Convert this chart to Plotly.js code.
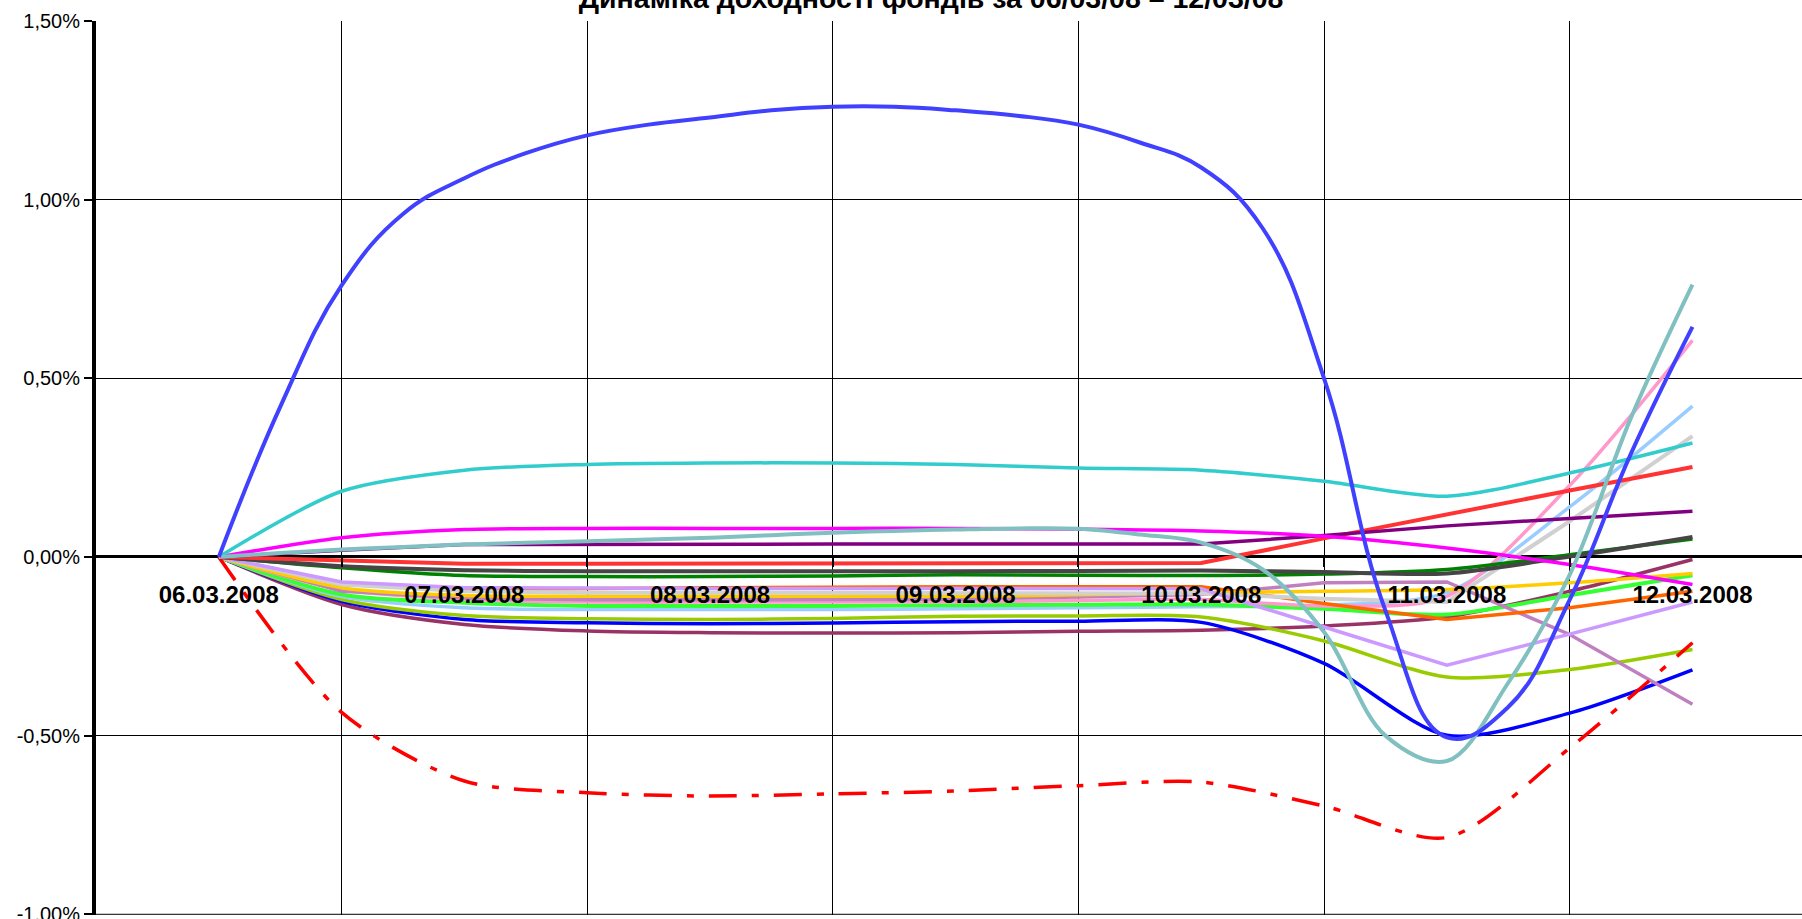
<!DOCTYPE html>
<html>
<head>
<meta charset="utf-8">
<script src="https://cdn.plot.ly/plotly-3.0.1.min.js"></script>
<style>
html,body{margin:0;padding:0;background:#fff;overflow:hidden}
#chart{width:1802px;height:919px}
</style>
</head>
<body>
<div id="chart"></div>
<script>
// Category labels (one per day)
const days = ['06.03.2008','07.03.2008','08.03.2008','09.03.2008','10.03.2008','11.03.2008','12.03.2008'];
const dayIdx = [0,1,2,3,4,5,6];
const boundaries = [0.5,1.5,2.5,3.5,4.5,5.5];
// Sampling positions (in days from 06.03.2008)
const xHalf = [0,0.5,1,1.5,2,2.5,3,3.5,4,4.5,5,5.5,6];
const xQuarter = [0,0.25,0.5,0.75,1,1.25,1.5,1.75,2,2.25,2.5,2.75,3,3.25,3.5,3.75,4,4.25,4.5,4.75,5,5.25,5.5,5.75,6];

// Series values, %
const turquoise   = [0,0.184,0.243,0.259,0.263,0.263,0.259,0.249,0.243,0.212,0.170,0.235,0.319];
const magenta     = [0,0.054,0.077,0.080,0.080,0.080,0.080,0.078,0.073,0.058,0.025,-0.021,-0.077];
const purple      = [0,0.019,0.035,0.036,0.036,0.036,0.036,0.036,0.036,0.060,0.087,0.108,0.128];
const red         = [0,-0.010,-0.019,-0.019,-0.019,-0.019,-0.019,-0.018,-0.017,0.052,0.120,0.186,0.252];
const darkGray    = [0,-0.026,-0.037,-0.040,-0.040,-0.040,-0.040,-0.039,-0.038,-0.042,-0.046,0.001,0.056];
const green       = [0,-0.030,-0.052,-0.055,-0.055,-0.053,-0.050,-0.051,-0.052,-0.048,-0.035,0.006,0.050];
const lavender    = [0,-0.070,-0.086,-0.088,-0.088,-0.088,-0.088,-0.088,-0.089,-0.196,-0.303,-0.216,-0.126];
const lightGray   = [0,-0.077,-0.096,-0.100,-0.100,-0.100,-0.100,-0.101,-0.102,-0.117,-0.126,0.100,0.338];
const gold        = [0,-0.086,-0.108,-0.110,-0.110,-0.110,-0.110,-0.106,-0.100,-0.096,-0.091,-0.072,-0.046];
const orange      = [0,-0.077,-0.090,-0.088,-0.085,-0.083,-0.083,-0.083,-0.083,-0.130,-0.175,-0.142,-0.096];
const mauve       = [0,-0.096,-0.115,-0.120,-0.120,-0.120,-0.118,-0.112,-0.105,-0.072,-0.070,-0.217,-0.412];
const pink        = [0,-0.091,-0.118,-0.126,-0.126,-0.126,-0.125,-0.122,-0.119,-0.137,-0.110,0.200,0.606];
const brightGreen = [0,-0.105,-0.128,-0.137,-0.137,-0.137,-0.135,-0.134,-0.133,-0.145,-0.161,-0.107,-0.051];
const lightBlue   = [0,-0.111,-0.142,-0.147,-0.147,-0.147,-0.145,-0.142,-0.139,-0.135,-0.100,0.140,0.422];
const yellowGreen = [0,-0.119,-0.164,-0.173,-0.175,-0.172,-0.166,-0.165,-0.168,-0.235,-0.336,-0.315,-0.259];
const blue        = [0,-0.124,-0.175,-0.184,-0.187,-0.185,-0.181,-0.180,-0.183,-0.298,-0.499,-0.437,-0.316];
const maroon      = [0,-0.133,-0.189,-0.207,-0.212,-0.213,-0.212,-0.208,-0.205,-0.193,-0.168,-0.096,-0.007];
const redDash     = [0,-0.435,-0.627,-0.660,-0.669,-0.663,-0.655,-0.640,-0.630,-0.697,-0.785,-0.535,-0.240];
const tealGray    = [0,0.011,0.021,0.028,0.035,0.040,0.044,0.049,0.054,0.061,0.068,0.073,0.077,0.080,0.079,0.063,0.040,-0.035,-0.210,-0.500,-0.571,-0.352,-0.050,0.390,0.762];
const royalBlue   = [0,0.42,0.76,0.96,1.06,1.13,1.18,1.21,1.23,1.25,1.26,1.26,1.25,1.235,1.21,1.16,1.09,0.92,0.50,-0.15,-0.505,-0.42,-0.12,0.29,0.644];

const yTicks = [-1,-0.5,0,0.5,1,1.5];
const yTickText = yTicks.map(v => v.toFixed(2).replace('.', ',') + '%');

function tr(x, y, color, opts) {
  opts = opts || {};
  return {
    type: 'scatter', mode: 'lines', x: x, y: y, hoverinfo: 'skip',
    line: {color: color, width: opts.width || 3.5, shape: opts.shape || 'spline',
           smoothing: opts.smoothing === undefined ? 0.8 : opts.smoothing, dash: opts.dash || 'solid'}
  };
}

const data = [
  tr(xHalf, maroon, '#993366'),
  tr(xHalf, blue, '#0000FF'),
  tr(xHalf, yellowGreen, '#99CC00'),
  tr(xHalf, lightBlue, '#99CCFF'),
  tr(xHalf, brightGreen, '#33FF33', {width: 4}),
  tr(xHalf, pink, '#FF99CC'),
  tr(xHalf, mauve, '#C080C0', {shape: 'linear'}),
  tr(xHalf, orange, '#FF6600', {shape: 'linear'}),
  tr(xHalf, gold, '#FFCC00'),
  tr(xHalf, lightGray, '#D0D0D0', {width: 4, shape: 'linear'}),
  tr(xHalf, lavender, '#CC99FF', {shape: 'linear'}),
  tr(xHalf, green, '#008000'),
  tr(xHalf, darkGray, '#454545', {width: 4}),
  tr(xHalf, red, '#FF3333', {width: 4, shape: 'linear'}),
  tr(xHalf, purple, '#800080', {shape: 'linear'}),
  tr(xHalf, magenta, '#FF00FF'),
  tr(xHalf, turquoise, '#33CCCC'),
  tr(xHalf, redDash, '#FF0000', {width: 3.5, dash: '28px,15px,7px,15px'}),
  tr(xQuarter, tealGray, '#80C0C0', {width: 4, smoothing: 1}),
  tr(xQuarter, royalBlue, '#4040FF', {width: 4, smoothing: 1.2})
];

const font = 'Liberation Sans, Arial, Helvetica, sans-serif';
const layout = {
  width: 1802, height: 919,
  margin: {l: 96, r: 0, t: 21, b: 4, pad: 0},
  paper_bgcolor: '#ffffff', plot_bgcolor: '#ffffff',
  showlegend: false,
  font: {family: font, color: '#000000'},
  title: {
    text: 'Динаміка доходності фондів за 06/03/08 – 12/03/08',
    font: {family: font, size: 28.5, weight: 'bold', color: '#000000'},
    xref: 'container', yref: 'container', x: 0.5167, xanchor: 'center',
    y: 0.991, yanchor: 'bottom'
  },
  xaxis: {
    range: [-0.5, 6.446], fixedrange: true,
    tickmode: 'array', tickvals: dayIdx, ticktext: days,
    ticks: '', showgrid: false, zeroline: false, showline: false,
    anchor: 'free', position: 0.4,
    tickfont: {family: font, size: 24, weight: 'bold', color: '#000000'},
    ticklabelstandoff: 21,
    minor: {tickmode: 'array', tickvals: boundaries, showgrid: true, gridcolor: '#000000', gridwidth: 1,
            ticks: 'outside', ticklen: 9, tickwidth: 2, tickcolor: '#000000'}
  },
  yaxis: {
    range: [-1.002, 1.5], fixedrange: true,
    tickmode: 'array', tickvals: yTicks, ticktext: yTickText,
    ticklabeloverflow: 'allow',
    showgrid: true, gridcolor: '#000000', gridwidth: 1,
    zeroline: true, zerolinecolor: '#000000', zerolinewidth: 3,
    showline: true, linecolor: '#000000', linewidth: 4,
    ticks: 'outside', ticklen: 8, tickwidth: 2, tickcolor: '#000000',
    tickfont: {family: font, size: 20, color: '#000000'}
  },
  shapes: [
    {type: 'line', xref: 'paper', yref: 'y', x0: 0, x1: 1, y0: yTicks[0], y1: yTicks[0],
     line: {color: '#000000', width: 1}, layer: 'below'}
  ]
};

Plotly.newPlot('chart', data, layout, {staticPlot: true, displayModeBar: false});
</script>
</body>
</html>
